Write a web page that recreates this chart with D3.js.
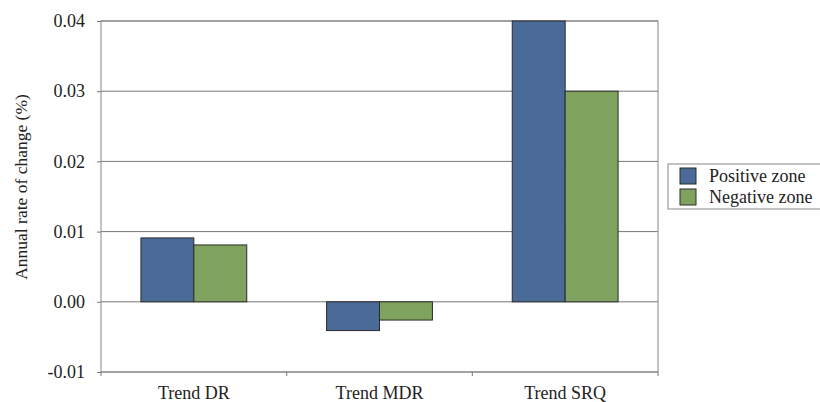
<!DOCTYPE html>
<html>
<head>
<meta charset="utf-8">
<script src="https://cdn.jsdelivr.net/npm/d3@7"></script>
</head>
<body style="margin:0; background:#fff">
<svg id="chart" style="display:block"></svg>
<script>
const categories = ["Trend DR", "Trend MDR", "Trend SRQ"];
const seriesNames = ["Positive zone", "Negative zone"];
const positiveZone = [0.0091, -0.0041, 0.04];
const negativeZone = [0.0081, -0.0026, 0.03];
const yTicks = [-0.01, 0.00, 0.01, 0.02, 0.03, 0.04];
const colors = ["#4a6a98", "#7fa35e"];

const width = 820;
const height = 402;
const margin = { top: 21, right: 162, bottom: 30, left: 101 };
const serif = "'Liberation Serif'";

const svg = d3.select("#chart")
  .attr("width", width)
  .attr("height", height);

const x = d3.scaleBand()
  .domain(categories)
  .range([margin.left, width - margin.right])
  .paddingInner(0.43)
  .paddingOuter(0.215);

const xInner = d3.scaleBand()
  .domain(seriesNames)
  .range([0, x.bandwidth()]);

const y = d3.scaleLinear()
  .domain([-0.01, 0.04])
  .range([height - margin.bottom, margin.top]);

// gridlines
svg.append("g")
  .selectAll("line")
  .data(yTicks)
  .enter()
  .append("line")
  .attr("x1", margin.left)
  .attr("x2", width - margin.right)
  .attr("y1", d => y(d))
  .attr("y2", d => y(d))
  .attr("stroke", "#777")
  .attr("stroke-width", 1);

// plot frame
svg.append("rect")
  .attr("x", margin.left)
  .attr("y", margin.top)
  .attr("width", width - margin.right - margin.left)
  .attr("height", height - margin.bottom - margin.top)
  .attr("fill", "none")
  .attr("stroke", "#888")
  .attr("stroke-width", 1);

const data = categories.map((c, i) => ({ category: c, values: [positiveZone[i], negativeZone[i]] }));

svg.append("g")
  .selectAll("g")
  .data(data)
  .enter()
  .append("g")
  .attr("transform", d => `translate(${x(d.category)},0)`)
  .selectAll("rect")
  .data(d => d.values.map((v, j) => ({ name: seriesNames[j], value: v, j })))
  .enter()
  .append("rect")
  .attr("x", d => xInner(d.name))
  .attr("width", xInner.bandwidth())
  .attr("y", d => y(Math.max(0, d.value)))
  .attr("height", d => Math.abs(y(d.value) - y(0)))
  .attr("fill", d => colors[d.j])
  .attr("stroke", "#2b2b2b")
  .attr("stroke-width", 1);

// x axis, ticks sit between categories
const xAxisY = height - margin.bottom;
const step = x.step();
const boundaries = d3.range(categories.length + 1).map(i => margin.left + i * step);
svg.append("g")
  .selectAll("line")
  .data(boundaries)
  .enter()
  .append("line")
  .attr("x1", d => d)
  .attr("x2", d => d)
  .attr("y1", xAxisY)
  .attr("y2", xAxisY + 4)
  .attr("stroke", "#777");

svg.append("g")
  .selectAll("text")
  .data(categories)
  .enter()
  .append("text")
  .attr("x", d => x(d) + x.bandwidth() / 2)
  .attr("y", xAxisY + 27)
  .attr("text-anchor", "middle")
  .style("font-family", serif)
  .style("font-size", "18px")
  .style("fill", "#222")
  .text(d => d);

// y axis
const yAxis = d3.axisLeft(y)
  .tickValues(yTicks)
  .tickSize(4)
  .tickPadding(12)
  .tickFormat(d => d3.format(".2f")(d).replace("\u2212", "-"));

const yG = svg.append("g")
  .attr("transform", `translate(${margin.left},0)`)
  .call(yAxis);
yG.select(".domain").remove();
yG.selectAll(".tick line").attr("stroke", "#777");
yG.selectAll(".tick text")
  .style("font-family", serif)
  .style("font-size", "18px")
  .style("fill", "#222");

svg.append("text")
  .attr("transform", "translate(27,187) rotate(-90)")
  .attr("text-anchor", "middle")
  .style("font-family", serif)
  .style("font-size", "17.5px")
  .style("fill", "#222")
  .text("Annual rate of change (%)");

// legend
const legend = svg.append("g").attr("transform", "translate(668,164)");
legend.append("rect")
  .attr("x", 0)
  .attr("y", 0)
  .attr("width", 160)
  .attr("height", 45)
  .attr("fill", "#fff")
  .attr("stroke", "#888");

seriesNames.forEach((name, i) => {
  legend.append("rect")
    .attr("x", 12)
    .attr("y", 4 + i * 21)
    .attr("width", 16)
    .attr("height", 16)
    .attr("fill", colors[i])
    .attr("stroke", "#2b2b2b");
  legend.append("text")
    .attr("x", 41)
    .attr("y", 18 + i * 21)
    .style("font-family", serif)
    .style("font-size", "18px")
    .style("fill", "#222")
    .text(name);
});
</script>
</body>
</html>
